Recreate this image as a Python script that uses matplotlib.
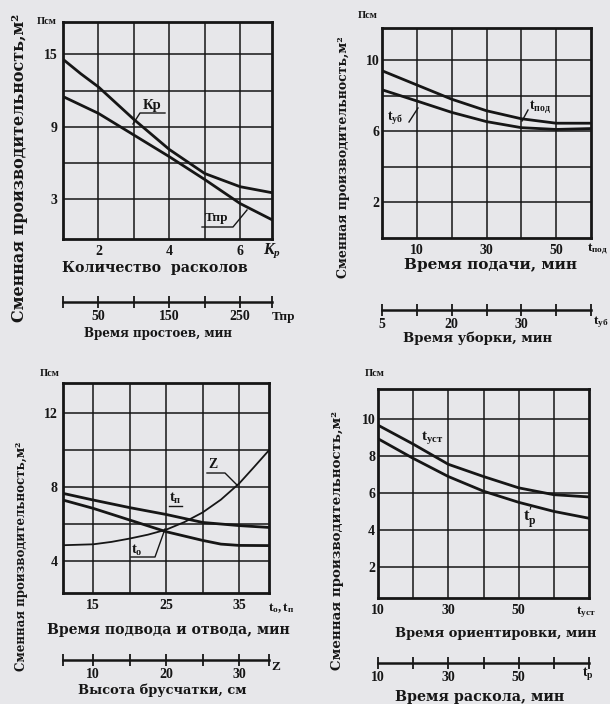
import matplotlib
matplotlib.use("Agg")
import matplotlib.pyplot as plt
from matplotlib.lines import Line2D

W, H = 610, 704
BG = "#e7e7ea"
INK = "#161616"
LABEL_FONT = ["DejaVu Serif"]

plt.rcParams["font.family"] = ["Liberation Serif", "DejaVu Serif"]
plt.rcParams["font.weight"] = "bold"
plt.rcParams["mathtext.fontset"] = "custom"
plt.rcParams["mathtext.rm"] = "Liberation Serif:bold"
plt.rcParams["mathtext.it"] = "Liberation Serif:bold:italic"
plt.rcParams["mathtext.bf"] = "Liberation Serif:bold"

# ---------------- data ----------------
# Panel 1: Количество расколов (Кр) / Время простоев (Тпр)
p1_kr_x = [1, 1.5, 2, 3, 4, 5, 6, 6.9]
p1_kr_y = [14.6, 13.4, 12.3, 9.6, 7.1, 5.1, 4.0, 3.5]
p1_tpr_x = [0, 50, 100, 150, 200, 250, 295]
p1_tpr_y = [11.5, 10.1, 8.3, 6.5, 4.6, 2.6, 1.25]
p1_xticks = [2, 3, 4, 5, 6]
p1_xlabels = ["2", "", "4", "", "6"]
p1_yticks = [3, 6, 9, 12, 15]
p1_ylabels = ["3", "", "9", "", "15"]
p1_sticks = [0, 50, 100, 150, 200, 250, 295]
p1_slabels = ["", "50", "", "150", "", "250", ""]

# Panel 2: Время подачи (tпод) / Время уборки (tуб)
p2_tpod_x = [0, 10, 20, 30, 40, 50, 60]
p2_tpod_y = [9.4, 8.6, 7.8, 7.15, 6.7, 6.45, 6.45]
p2_tub_x = [0, 10, 20, 30, 40, 50, 60]
p2_tub_y = [8.33, 7.7, 7.06, 6.54, 6.2, 6.1, 6.15]
p2_xticks = [10, 20, 30, 40, 50]
p2_xlabels = ["10", "", "30", "", "50"]
p2_yticks = [2, 4, 6, 8, 10]
p2_ylabels = ["2", "", "6", "", "10"]
p2_sticks = [0, 10, 20, 30, 40, 50, 60]
p2_slabels = ["5", "", "20", "", "30", "", ""]

# Panel 3: Время подвода (tп) и отвода (tо) / Высота брусчатки (Z)
p3_tp_x = [10.85, 15, 20, 25, 30, 35, 39.1]
p3_tp_y = [7.64, 7.28, 6.87, 6.5, 6.07, 5.9, 5.8]
p3_to_x = [10.85, 15, 20, 25, 30, 32.5, 35, 39.1]
p3_to_y = [7.28, 6.83, 6.2, 5.57, 5.1, 4.9, 4.83, 4.82]
p3_z_x = [5.85, 10, 12.5, 15, 17.5, 20, 22.5, 25, 27.5, 30, 32, 34.1]
p3_z_y = [4.84, 4.89, 5.02, 5.2, 5.41, 5.68, 6.09, 6.61, 7.3, 8.17, 9.04, 9.97]
p3_xticks = [15, 20, 25, 30, 35]
p3_xlabels = ["15", "", "25", "", "35"]
p3_yticks = [4, 6, 8, 10, 12]
p3_ylabels = ["4", "", "8", "", "12"]
p3_sticks = [5.85, 10, 15, 20, 25, 30, 34.1]
p3_slabels = ["", "10", "", "20", "", "30", ""]

# Panel 4: Время ориентировки (tуст) / Время раскола (t'р)
p4_tust_x = [10, 20, 30, 40, 50, 60, 70]
p4_tust_y = [9.65, 8.63, 7.54, 6.88, 6.27, 5.9, 5.78]
p4_tr_x = [10, 20, 30, 40, 50, 60, 70]
p4_tr_y = [8.92, 7.86, 6.88, 6.09, 5.49, 5.0, 4.63]
p4_xticks = [10, 20, 30, 40, 50, 60]
p4_xlabels = ["10", "", "30", "", "50", ""]
p4_yticks = [2, 4, 6, 8, 10]
p4_ylabels = ["2", "4", "6", "8", "10"]
p4_sticks = [10, 20, 30, 40, 50, 60, 70]
p4_slabels = ["10", "", "30", "", "50", "", ""]

YLABEL = "Сменная производительность,м²"

# ---------------- helpers ----------------
fig = plt.figure(figsize=(W / 100, H / 100), dpi=100, facecolor=BG)


def fx(x):
    return x / W


def fy(y):
    return 1 - y / H


def make_ax(l, t, r, b, xlim, ylim, xt, xl, yt, yl):
    ax = fig.add_axes([l / W, 1 - b / H, (r - l) / W, (b - t) / H])
    ax.set_facecolor(BG)
    ax.set_xlim(*xlim)
    ax.set_ylim(*ylim)
    ax.set_xticks(xt)
    ax.set_xticklabels(xl)
    ax.set_yticks(yt)
    ax.set_yticklabels(yl)
    ax.tick_params(length=0, labelsize=10, colors=INK, pad=4)
    ax.grid(True, color=INK, lw=1.1)
    ax.set_axisbelow(True)
    for s in ax.spines.values():
        s.set_linewidth(2.0)
        s.set_color(INK)
    return ax


def secondary(ax, loc, funcs, ticks, labels):
    sec = ax.secondary_xaxis(loc, functions=funcs)
    sec.set_xticks(ticks)
    sec.set_xticklabels(labels)
    sec.tick_params(direction="inout", length=8, width=1.3, labelsize=10,
                    colors=INK, pad=2)
    sec.spines["bottom"].set_linewidth(1.8)
    sec.spines["bottom"].set_color(INK)
    return sec


def ftext(x, y, s, size=11, **kw):
    fig.text(fx(x), fy(y), s, fontsize=size, ha=kw.pop("ha", "center"),
             va=kw.pop("va", "center"), color=INK, fontweight="bold", **kw)


def flabel(x, y, s, size, **kw):
    ftext(x, y, s, size, family=LABEL_FONT, **kw)


def fline(pts, lw=1.0):
    xs = [fx(p[0]) for p in pts]
    ys = [fy(p[1]) for p in pts]
    fig.add_artist(Line2D(xs, ys, transform=fig.transFigure, color=INK, lw=lw))


# ---------------- panel 1 ----------------
ax1 = make_ax(63, 22, 272, 239, (1, 6.9), (-0.35, 17.7),
              p1_xticks, p1_xlabels, p1_yticks, p1_ylabels)
ax1.plot(p1_kr_x, p1_kr_y, color=INK, lw=2.0)
ax1.plot([1 + t / 50 for t in p1_tpr_x], p1_tpr_y, color=INK, lw=2.0)
secondary(ax1, -0.29, (lambda k: 50 * (k - 1), lambda t: t / 50 + 1),
          p1_sticks, p1_slabels)
ftext(152, 106, "Кр", 10.5)
fline([(165, 113), (140, 113), (133, 124)])
ftext(217, 218, "Тпр", 9.5)
fline([(202, 227), (233, 227), (247, 210)])
ftext(272, 251, r"$\mathit{К}_{\mathit{р}}$", 11.5)
ftext(284, 317, "Тпр", 9.5)
flabel(155, 268, "Количество  расколов", 10.2)
flabel(158, 334, "Время простоев, мин", 8.6)
flabel(20, 168, YLABEL, 11.5, rotation=90)
ftext(47, 21, "Псм", 7.5)

# ---------------- panel 2 ----------------
ax2 = make_ax(382, 28, 591, 238, (0, 60), (0, 11.8),
              p2_xticks, p2_xlabels, p2_yticks, p2_ylabels)
ax2.tick_params(axis="y", pad=2)
ax2.plot(p2_tpod_x, p2_tpod_y, color=INK, lw=2.0)
ax2.plot(p2_tub_x, p2_tub_y, color=INK, lw=2.0)
secondary(ax2, -0.343, (lambda v: v, lambda v: v), p2_sticks, p2_slabels)
ftext(540, 107, r"$\mathrm{t}_{\mathrm{под}}$", 10)
fline([(528, 110), (522, 121)])
ftext(395, 118, r"$\mathrm{t}_{\mathrm{уб}}$", 10)
fline([(409, 122), (418, 108)])
ftext(597, 249, r"$\mathrm{t}_{\mathrm{под}}$", 9.5)
ftext(601, 322, r"$\mathrm{t}_{\mathrm{уб}}$", 9.5)
flabel(490, 265, "Время подачи, мин", 11)
flabel(478, 338, "Время уборки, мин", 9.5)
flabel(343, 157, YLABEL, 9, rotation=90)
ftext(368, 16, "Псм", 7.5)

# ---------------- panel 3 ----------------
ax3 = make_ax(63, 383, 269, 593, (10.85, 39.1), (2.26, 13.6),
              p3_xticks, p3_xlabels, p3_yticks, p3_ylabels)
ax3.plot(p3_tp_x, p3_tp_y, color=INK, lw=2.0)
ax3.plot(p3_to_x, p3_to_y, color=INK, lw=2.0)
ax3.plot([z + 5 for z in p3_z_x], p3_z_y, color=INK, lw=1.3)
secondary(ax3, -0.319, (lambda t: t - 5, lambda z: z + 5), p3_sticks, p3_slabels)
ftext(213, 465, "Z", 10)
fline([(207, 473), (225, 473), (237, 485)])
ftext(175, 498, r"$\mathrm{t}_{\mathrm{п}}$", 10.5)
fline([(169, 506), (182, 506)])
ftext(137, 550, r"$\mathrm{t}_{\mathrm{о}}$", 10.5)
fline([(131, 557), (155, 557), (165, 529)])
ftext(281, 608, r"$\mathrm{t}_{\mathrm{о}}, \mathrm{t}_{\mathrm{п}}$", 9.5)
ftext(276, 667, "Z", 9.5)
flabel(168, 630, "Время подвода и отвода, мин", 10.1)
flabel(162, 690, "Высота брусчатки, см", 9.4)
flabel(22, 556, YLABEL, 8.6, rotation=90)
ftext(50, 374, "Псм", 7.5)

# ---------------- panel 4 ----------------
ax4 = make_ax(378, 389, 589, 598, (10, 70), (0.33, 11.6),
              p4_xticks, p4_xlabels, p4_yticks, p4_ylabels)
ax4.tick_params(axis="y", pad=2)
ax4.plot(p4_tust_x, p4_tust_y, color=INK, lw=2.0)
ax4.plot(p4_tr_x, p4_tr_y, color=INK, lw=2.0)
secondary(ax4, -0.311, (lambda v: v, lambda v: v), p4_sticks, p4_slabels)
ftext(432, 437, r"$\mathrm{t}_{\mathrm{уст}}$", 11)
ftext(530, 518, r"$\mathrm{t}^{\prime}_{\mathrm{р}}$", 12)
ftext(586, 612, r"$\mathrm{t}_{\mathrm{уст}}$", 9.5)
ftext(588, 674, r"$\mathrm{t}_{\mathrm{р}}$", 10)
flabel(496, 633, "Время ориентировки, мин", 9.4)
flabel(480, 697, "Время раскола, мин", 10.3)
flabel(337, 541, YLABEL, 9.6, rotation=90)
ftext(375, 374, "Псм", 7.5)

fig.savefig("out.png", dpi=100, facecolor=BG)
